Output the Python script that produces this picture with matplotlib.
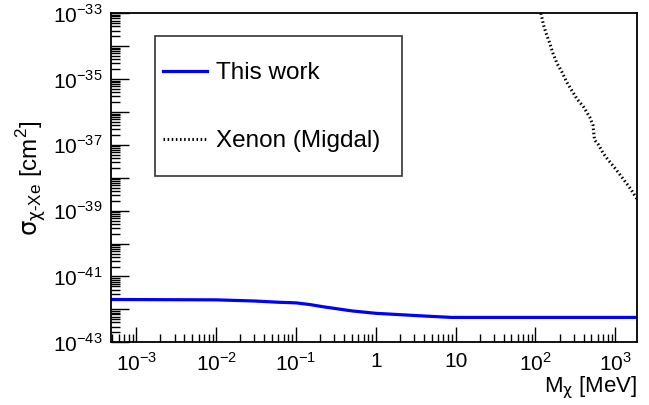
import numpy as np
import matplotlib
matplotlib.use("Agg")
from matplotlib import pyplot as plt
from matplotlib import ticker
from matplotlib.patches import Rectangle

plt.rcParams['font.family'] = ['Liberation Sans', 'DejaVu Sans']
plt.rcParams['mathtext.fontset'] = 'custom'
plt.rcParams['mathtext.rm'] = 'Liberation Sans'
plt.rcParams['mathtext.it'] = 'DejaVu Sans'
plt.rcParams['mathtext.bf'] = 'Liberation Sans:bold'

# this work
mass_this = [5e-4, 0.01, 0.03, 0.06, 0.1, 0.15, 0.22, 0.5, 1.0, 1.5, 4.0, 9.0, 2000.0]
sigma_this = [2.0e-42, 1.95e-42, 1.8e-42, 1.65e-42, 1.58e-42, 1.4e-42, 1.2e-42,
              9.0e-43, 7.6e-43, 7.2e-43, 6.3e-43, 5.7e-43, 5.7e-43]

# Xenon (Migdal)
mass_xe = [117, 126, 138, 151, 166, 186, 214, 245, 282, 331, 398, 478,
           525, 537, 550, 617, 708, 813, 955, 1148, 1380, 1585, 1738, 2000]
sigma_xe = [1.0e-33, 4.4e-34, 2.2e-34, 1.23e-34, 6.0e-35, 3.0e-35, 1.66e-35,
            8.3e-36, 4.7e-36, 2.5e-36, 1.45e-36, 7.0e-37,
            4.0e-37, 2.3e-37, 1.4e-37, 1.0e-37, 5.5e-38, 3.5e-38, 2.2e-38,
            1.23e-38, 6.8e-39, 4.3e-39, 3.0e-39, 1.8e-39]

xticks = [1e-3, 1e-2, 1e-1, 1, 10, 1e2, 1e3]
xlabels = [r'$10^{-3}$', r'$10^{-2}$', r'$10^{-1}$', '1', '10', r'$10^{2}$', r'$10^{3}$']
ylab_exp = [-43, -41, -39, -37, -35, -33]

fig = plt.figure(figsize=(6.49, 4.05), dpi=100)
ax = fig.add_axes([111/649, 1-342.3/405, (637-111)/649, (342.3-13.3)/405])

l1, = ax.plot(mass_this, sigma_this, color='#0000ff', lw=2.3, label='This work')
l2, = ax.plot(mass_xe, sigma_xe, color='black', lw=2.2, ls=(0, (0.5, 0.85)),
              label='Xenon (Migdal)')

ax.set_xscale('log')
ax.set_yscale('log')
ax.set_xlim(4.8e-4, 1.87e3)
ax.set_ylim(1e-43, 1e-33)

ax.xaxis.set_major_locator(ticker.FixedLocator(xticks))
ax.xaxis.set_major_formatter(ticker.FixedFormatter(xlabels))
ax.xaxis.set_minor_locator(ticker.LogLocator(base=10, subs=np.arange(2, 10), numticks=50))
ax.xaxis.set_minor_formatter(ticker.NullFormatter())

ax.yaxis.set_major_locator(ticker.FixedLocator([10.0**e for e in range(-43, -32)]))
ax.yaxis.set_major_formatter(ticker.FuncFormatter(
    lambda v, p: (r'$10^{%d}$' % round(np.log10(v))) if round(np.log10(v)) in ylab_exp else ''))
ax.yaxis.set_minor_locator(ticker.LogLocator(base=10, subs=np.arange(2, 10), numticks=50))
ax.yaxis.set_minor_formatter(ticker.NullFormatter())

ax.tick_params(which='both', direction='in', top=False, right=False, labelsize=15, width=1.0)
ax.tick_params(axis='x', which='major', length=11, pad=7)
ax.tick_params(axis='x', which='minor', length=6)
ax.tick_params(axis='y', which='major', length=13, pad=6)
ax.tick_params(axis='y', which='minor', length=6.5)
for s in ax.spines.values():
    s.set_linewidth(1.3)

ax.set_xlabel(r'M$_{\chi}$ [MeV]', fontsize=16, loc='right', labelpad=-0.5)
ax.set_ylabel(r'$\sigma_{\chi\mathrm{\text{-}Xe}}$ [cm$^{2}$]', fontsize=17.5, labelpad=3)

# legend box
ax.add_patch(Rectangle((155/649, 1-176/405), (402-155)/649, 140/405, transform=fig.transFigure,
                       fill=False, edgecolor='#333333', lw=1.2, zorder=5))
leg = fig.legend(handles=[l1, l2], loc='upper left', bbox_to_anchor=(146/649, 1-45/405),
                 frameon=False, fontsize=17.5, handlelength=1.8, handletextpad=0.4,
                 labelspacing=1.9, borderpad=0.2)

fig.savefig('out.png', dpi=100)
